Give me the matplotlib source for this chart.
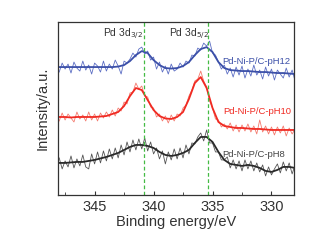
import numpy as np
import matplotlib
matplotlib.use("Agg")
import matplotlib.pyplot as plt
from matplotlib.ticker import MultipleLocator

plt.rcParams["font.family"] = ["Liberation Sans", "DejaVu Sans"]

# smoothed fits, 0.5 eV step from 348 to 328 eV
fit_ph12 = [133, 133, 133, 133, 133, 133, 133, 133, 133, 133, 133.5, 135, 139, 145, 149, 147, 140, 135, 132, 131.5,
            132, 134, 138, 145, 151, 153, 148, 138, 132, 130, 129.5, 129, 129, 128.5, 128, 128, 127.5, 127, 127, 126.5, 126]
fit_ph10 = [83, 83, 82.5, 83, 83, 83, 83, 83.5, 84, 86, 88, 94, 104, 112, 110, 100, 90, 84, 81.5, 81,
            83, 88, 101, 117, 123, 112, 92, 78, 74, 73, 72, 72, 71.5, 71, 71, 70.5, 70, 70, 70, 70, 70]
fit_ph8 = [37, 37, 37.5, 38, 38, 39, 40, 41.5, 43, 45, 47, 50, 53, 55, 55, 54, 52, 48, 45, 44,
           45, 47, 50, 57, 63, 63, 58, 48, 40, 36, 35, 34, 35, 34, 32, 29, 28, 30, 33, 33, 32]

# raw spectra, 0.25 eV step from 348 to 328 eV
raw_ph12 = [128, 137, 131, 136, 127, 138, 132, 129, 139, 130, 135, 126, 137, 134, 128, 139, 129, 136, 131, 140,
            134, 126, 139, 137, 141, 147, 143, 151, 153, 146, 149, 140, 143, 131, 138, 128, 134, 126, 136, 129,
            131, 137, 133, 139, 137, 145, 144, 152, 150, 157, 154, 159, 147, 145, 138, 131, 135, 126, 132, 123,
            133, 125, 134, 122, 131, 124, 135, 125, 130, 121, 133, 124, 131, 120, 130, 126, 122, 132, 123, 130, 119]
raw_ph10 = [79, 87, 80, 86, 82, 78, 88, 81, 85, 79, 88, 80, 86, 79, 87, 82, 88, 83, 90, 84,
            92, 89, 98, 96, 107, 108, 117, 111, 114, 104, 103, 93, 92, 83, 86, 79, 84, 77, 85, 79,
            86, 84, 92, 95, 104, 110, 119, 121, 129, 119, 113, 99, 92, 81, 80, 73, 76, 71, 77, 69,
            75, 68, 75, 69, 76, 68, 74, 66, 80, 68, 74, 66, 73, 65, 73, 67, 74, 64, 72, 66, 71]
raw_ph8 = [42, 31, 39, 33, 44, 32, 41, 34, 45, 33, 31, 46, 36, 48, 37, 49, 39, 51, 41, 52,
           42, 55, 45, 58, 48, 60, 50, 61, 51, 62, 49, 58, 46, 52, 41, 49, 36, 48, 40, 51,
           41, 52, 42, 55, 46, 57, 56, 63, 67, 59, 70, 57, 57, 48, 48, 40, 40, 43, 32, 40,
           31, 39, 29, 40, 31, 39, 29, 37, 28, 35, 24, 33, 25, 31, 36, 27, 38, 29, 37, 26, 35]

labels = ["Pd-Ni-P/C-pH12", "Pd-Ni-P/C-pH10", "Pd-Ni-P/C-pH8"]
colors = ["#3b4fa8", "#f02a22", "#2a2a2a"]
raw_colors = ["#5c6ec4", "#f47a6e", "#555555"]
peaks = [340.8, 335.4]

x_fit = np.linspace(348, 328, len(fit_ph12))
x_raw = np.linspace(348, 328, len(raw_ph12))

fig = plt.figure(figsize=(3.12, 2.43), dpi=100)
ax = fig.add_axes([0.186, 0.198, 0.756, 0.711])

for raw, fit, c, rc in zip([raw_ph12, raw_ph10, raw_ph8], [fit_ph12, fit_ph10, fit_ph8], colors, raw_colors):
    ax.plot(x_raw, raw, color=rc, lw=0.6)
    ax.plot(x_fit, fit, color=c, lw=1.3)

for p in peaks:
    ax.axvline(p, color="#44bb44", ls=(0, (3, 2)), lw=0.9)

ax.text(342.6, 166, "Pd 3d$_{3/2}$", fontsize=7.5, color="#333333", ha="center", va="center")
ax.text(337.0, 166, "Pd 3d$_{5/2}$", fontsize=7.5, color="#333333", ha="center", va="center")

ax.text(331.3, 139, labels[0], fontsize=6.8, color=colors[0], ha="center", va="center")
ax.text(331.2, 88, labels[1], fontsize=6.8, color=colors[1], ha="center", va="center")
ax.text(331.5, 45, labels[2], fontsize=6.8, color="#444444", ha="center", va="center")

ax.set_xlim(348.1, 328.1)
ax.set_ylim(5, 178)
ax.xaxis.set_major_locator(MultipleLocator(5))
ax.xaxis.set_minor_locator(MultipleLocator(2.5))
ax.tick_params(axis="x", which="both", direction="in", labelsize=10.5, colors="#333333")
ax.tick_params(axis="x", which="major", length=3)
ax.tick_params(axis="x", which="minor", length=2)
ax.set_yticks([])
ax.set_xlabel("Binding energy/eV", fontsize=10.5, color="#333333", labelpad=1)
ax.set_ylabel("Intensity/a.u.", fontsize=10.5, color="#333333", labelpad=6)
for s in ax.spines.values():
    s.set_color("#333333")
    s.set_linewidth(0.9)

fig.savefig("out.png", dpi=100)
